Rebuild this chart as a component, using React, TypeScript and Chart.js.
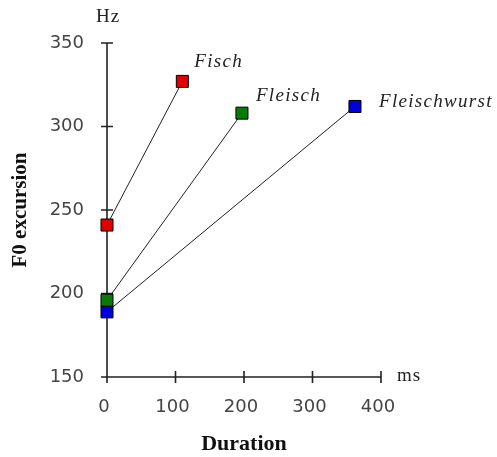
import { useEffect, useRef } from "react";
import { Chart, registerables } from "chart.js";

Chart.register(...registerables);

// ---- data ----
const words = ["Fisch", "Fleisch", "Fleischwurst"];
const startDuration = [0, 0, 0];
const endDuration = [110, 197, 362];
const startF0 = [241, 196, 189];
const endF0 = [327, 308, 312];
const xTickValues = [0, 100, 200, 300, 400];
const yTickValues = [150, 200, 250, 300, 350];
const xUnit = "ms";
const yUnit = "Hz";
const xTitle = "Duration";
const yTitle = "F0 excursion";

// ---- styles ----
const markerColors = ["#e00000", "#087a0a", "#0000dd"];
const labelOffsets = [
  [12, -19],
  [14, -17],
  [24, -4],
];
const AXIS_COLOR = "#222";
const TICK_HALF = 6;

const crossAxesPlugin = {
  id: "crossAxes",
  beforeDatasetsDraw(chart: any) {
    const { ctx, scales } = chart;
    const x = scales.x;
    const y = scales.y;
    const x0 = x.getPixelForValue(xTickValues[0]);
    const xEnd = x.getPixelForValue(xTickValues[xTickValues.length - 1]);
    const yBase = y.getPixelForValue(yTickValues[0]);
    const yTop = y.getPixelForValue(yTickValues[yTickValues.length - 1]);
    ctx.save();
    ctx.strokeStyle = AXIS_COLOR;
    ctx.lineWidth = 1.6;
    ctx.beginPath();
    ctx.moveTo(x0, yTop);
    ctx.lineTo(x0, yBase + TICK_HALF);
    ctx.moveTo(x0 - TICK_HALF, yBase);
    ctx.lineTo(xEnd, yBase);
    yTickValues.forEach((v) => {
      const py = y.getPixelForValue(v);
      ctx.moveTo(x0 - TICK_HALF, py);
      ctx.lineTo(x0 + TICK_HALF, py);
    });
    xTickValues.forEach((v) => {
      const px = x.getPixelForValue(v);
      ctx.moveTo(px, yBase - TICK_HALF);
      ctx.lineTo(px, yBase + TICK_HALF);
    });
    ctx.stroke();

    ctx.fillStyle = "#222";
    ctx.font = "19px 'Liberation Serif', serif";
    (ctx as any).letterSpacing = "1px";
    ctx.textBaseline = "middle";
    ctx.textAlign = "center";
    ctx.fillText(yUnit, x0 + 1, yTop - 26);
    ctx.textAlign = "left";
    ctx.fillText(xUnit, xEnd + 16, yBase - 1);
    ctx.restore();
  },
  afterDatasetsDraw(chart: any) {
    const { ctx } = chart;
    ctx.save();
    ctx.fillStyle = "#222";
    ctx.font = "italic 19px 'Liberation Serif', serif";
    (ctx as any).letterSpacing = "1.3px";
    ctx.textBaseline = "middle";
    ctx.textAlign = "left";
    words.forEach((w, i) => {
      const meta = chart.getDatasetMeta(i);
      const pt = meta.data[1];
      if (!pt) return;
      ctx.fillText(w, pt.x + labelOffsets[i][0], pt.y + labelOffsets[i][1]);
    });
    ctx.restore();
  },
};

export default function App() {
  const ref = useRef<HTMLCanvasElement | null>(null);

  useEffect(() => {
    if (!ref.current) return;
    const datasets = words.map((w, i) => ({
      label: w,
      data: [
        { x: startDuration[i], y: startF0[i] },
        { x: endDuration[i], y: endF0[i] },
      ],
      showLine: true,
      borderColor: "#222",
      borderWidth: 1,
      pointStyle: "rect",
      pointRadius: 8.5,
      pointHoverRadius: 8.5,
      pointBackgroundColor: markerColors[i],
      pointBorderColor: "#000",
      pointBorderWidth: 1,
      clip: false,
    }));

    const chart = new Chart(ref.current, {
      type: "scatter",
      data: { datasets } as any,
      options: {
        animation: false,
        responsive: true,
        maintainAspectRatio: false,
        layout: { padding: { left: 0, top: 43, right: 116, bottom: 0 } },
        plugins: {
          legend: { display: false },
          tooltip: { enabled: false },
        },
        scales: {
          x: {
            type: "linear",
            min: xTickValues[0],
            max: xTickValues[xTickValues.length - 1],
            afterBuildTicks: (s: any) => {
              s.ticks = xTickValues.map((v) => ({ value: v }));
            },
            afterFit: (s: any) => {
              s.height = 80;
            },
            grid: { display: false, drawTicks: false },
            border: { display: false },
            ticks: {
              padding: 20,
              labelOffset: -3,
              color: "#444",
              font: { family: "'DejaVu Sans', sans-serif", size: 18 },
            },
            title: {
              display: true,
              text: xTitle,
              color: "#111",
              padding: { top: 0, bottom: 2 },
              font: { family: "'Liberation Serif', serif", size: 22, weight: "bold", lineHeight: 1 },
            },
          },
          y: {
            type: "linear",
            min: yTickValues[0],
            max: yTickValues[yTickValues.length - 1],
            afterBuildTicks: (s: any) => {
              s.ticks = yTickValues.map((v) => ({ value: v }));
            },
            afterFit: (s: any) => {
              s.width = 107;
            },
            grid: { display: false, drawTicks: false },
            border: { display: false },
            ticks: {
              padding: 23,
              color: "#444",
              font: { family: "'DejaVu Sans', sans-serif", size: 18 },
            },
            title: {
              display: true,
              text: yTitle,
              color: "#111",
              padding: { top: 10, bottom: 0 },
              font: { family: "'Liberation Serif', serif", size: 21, weight: "bold", lineHeight: 1 },
            },
          },
        },
      } as any,
      plugins: [crossAxesPlugin],
    });
    return () => chart.destroy();
  }, []);

  return (
    <div style={{ position: "fixed", left: 0, top: 0, width: 497, height: 457 }}>
      <canvas ref={ref} />
    </div>
  );
}
